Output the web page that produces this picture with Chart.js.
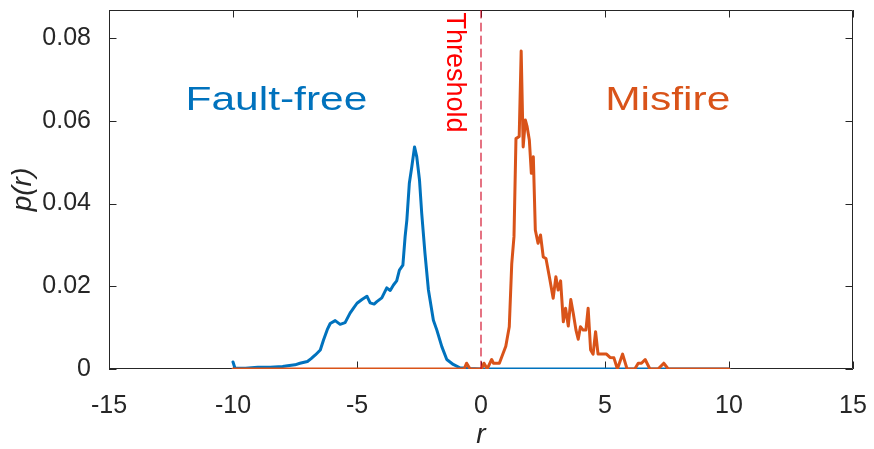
<!DOCTYPE html>
<html>
<head>
<meta charset="utf-8">
<script src="https://cdn.jsdelivr.net/npm/chart.js@4.4.1/dist/chart.umd.min.js"></script>
<style>
html,body{margin:0;padding:0;background:#fff;}
#wrap{width:874px;height:449px;}
</style>
</head>
<body>
<div id="wrap"><canvas id="c" width="874" height="449"></canvas></div>
<script>
// ---- data ----
const xTicks = [-15, -10, -5, 0, 5, 10, 15];
const yTicks = [0, 0.02, 0.04, 0.06, 0.08];
const ffR = [-10, -9.92, -9.5, -9, -8.5, -8, -7.8, -7.5, -7.3, -7.0, -6.85, -6.68, -6.48, -6.35, -6.2, -6.08, -5.88, -5.68, -5.48, -5.28, -5.14, -5.0, -4.8, -4.6, -4.47, -4.31, -4.2, -4.0, -3.8, -3.66, -3.53, -3.4, -3.29, -3.15, -3.06, -2.99, -2.89, -2.79, -2.68, -2.59, -2.48, -2.39, -2.26, -2.12, -1.92, -1.78, -1.58, -1.38, -1.12, -0.85, -0.5, 0, 10];
const ffP = [0.0017, 0.0002, 0.0002, 0.0004, 0.0004, 0.0006, 0.0008, 0.0010, 0.0014, 0.0018, 0.0025, 0.0034, 0.0046, 0.007, 0.0095, 0.011, 0.0117, 0.0108, 0.0112, 0.0135, 0.0147, 0.0159, 0.0168, 0.0176, 0.016, 0.0157, 0.0163, 0.0172, 0.0196, 0.019, 0.0203, 0.0213, 0.0239, 0.0251, 0.032, 0.036, 0.0449, 0.0489, 0.0537, 0.0513, 0.0457, 0.0376, 0.028, 0.0191, 0.0118, 0.0094, 0.0054, 0.0023, 0.0011, 0.0003, 0.0001, 0, 0];
const mfR = [-10, -0.68, -0.58, -0.44, 0.02, 0.12, 0.25, 0.43, 0.5, 0.74, 1.0, 1.14, 1.24, 1.33, 1.41, 1.54, 1.62, 1.70, 1.79, 1.86, 1.95, 2.03, 2.11, 2.19, 2.30, 2.40, 2.51, 2.62, 2.78, 2.91, 3.02, 3.11, 3.21, 3.32, 3.41, 3.52, 3.62, 3.72, 3.83, 3.92, 4.01, 4.12, 4.23, 4.32, 4.42, 4.52, 4.62, 4.72, 5.06, 5.2, 5.36, 5.5, 5.71, 5.89, 6.2, 6.34, 6.47, 6.62, 6.81, 7.14, 7.37, 7.55, 10];
const mfP = [0, 0, 0.0014, 0, 0, 0.0014, 0, 0.0023, 0.0014, 0.0014, 0.0055, 0.0102, 0.0255, 0.032, 0.0557, 0.0562, 0.0769, 0.0537, 0.0602, 0.0586, 0.0553, 0.0473, 0.0513, 0.0336, 0.0304, 0.0324, 0.0271, 0.0267, 0.0215, 0.0171, 0.0223, 0.0191, 0.0213, 0.0114, 0.0147, 0.0104, 0.0168, 0.0135, 0.0094, 0.0072, 0.0102, 0.0094, 0.0094, 0.0147, 0.0046, 0.0036, 0.009, 0.0036, 0.0036, 0.0028, 0.0027, 0, 0.0036, 0, 0, 0.0014, 0.0014, 0.0023, 0, 0, 0.0014, 0, 0];
const thresholdR = 0;
const xMin = -15, xMax = 15, yMin = 0, yMax = 0.0868;

const BLUE = '#0072BD', ORANGE = '#D95319', AXC = '#262626';
const FONT = "'Liberation Sans', Arial, Helvetica, sans-serif";

const pts = (xs, ys) => xs.map((x, i) => ({x: x, y: ys[i]}));

const boxPlugin = {
  id: 'box',
  beforeDatasetsDraw(chart) {
    const {ctx, chartArea: a, scales: {x, y}} = chart;
    ctx.save();
    ctx.strokeStyle = AXC;
    ctx.lineWidth = 1;
    ctx.beginPath();
    ctx.rect(Math.round(a.left) + 0.5, Math.round(a.top) + 0.5, Math.round(a.right - a.left) - 1, Math.round(a.bottom - a.top) - 1);
    const tl = 7.5;
    x.ticks.forEach(t => {
      const px = Math.round(x.getPixelForValue(t.value)) + 0.5;
      ctx.moveTo(px, a.bottom); ctx.lineTo(px, a.bottom - tl);
      ctx.moveTo(px, a.top); ctx.lineTo(px, a.top + tl);
    });
    y.ticks.forEach(t => {
      const py = Math.round(y.getPixelForValue(t.value)) + 0.5;
      ctx.moveTo(a.left, py); ctx.lineTo(a.left + tl, py);
      ctx.moveTo(a.right, py); ctx.lineTo(a.right - tl, py);
    });
    ctx.stroke();
    ctx.restore();
  },
  afterDatasetsDraw(chart) {
    const {ctx, scales: {x, y}} = chart;
    ctx.save();
    ctx.font = "34px " + FONT;
    ctx.textAlign = 'center';
    ctx.textBaseline = 'alphabetic';
    const drawStretched = (txt, r, p, col) => {
      ctx.save();
      ctx.translate(x.getPixelForValue(r), y.getPixelForValue(p));
      ctx.scale(1.25, 1);
      ctx.fillStyle = col;
      ctx.fillText(txt, 0, 0);
      ctx.restore();
    };
    drawStretched('Fault-free', -8.25, 0.0626, BLUE);
    drawStretched('Misfire', 7.53, 0.0626, ORANGE);
    ctx.save();
    ctx.translate(x.getPixelForValue(-1.36), y.getPixelForValue(0.0862));
    ctx.rotate(Math.PI / 2);
    ctx.font = "27px " + FONT;
    ctx.fillStyle = '#FF0000';
    ctx.textAlign = 'left';
    ctx.textBaseline = 'alphabetic';
    ctx.fillText('Threshold', 0, 0);
    ctx.restore();
    ctx.restore();
  }
};

new Chart(document.getElementById('c'), {
  type: 'line',
  data: {
    datasets: [
      {label: 'Fault-free', data: pts(ffR, ffP), borderColor: BLUE, borderWidth: 3, pointRadius: 0, tension: 0, order: 2},
      {label: 'Misfire', data: pts(mfR, mfP), borderColor: ORANGE, borderWidth: 3, pointRadius: 0, tension: 0, order: 1},
      {label: 'Threshold', data: [{x: thresholdR, y: yMin}, {x: thresholdR, y: yMax}], borderColor: '#D0001E', borderWidth: 1.1, borderDash: [8, 5], pointRadius: 0, order: 0}
    ]
  },
  options: {
    responsive: false,
    animation: false,
    devicePixelRatio: 1,
    layout: {padding: {left: 0, right: 21, top: 10, bottom: 0}},
    plugins: {legend: {display: false}, tooltip: {enabled: false}},
    elements: {line: {borderJoinStyle: 'round', borderCapStyle: 'round'}},
    scales: {
      x: {
        type: 'linear', min: xMin, max: xMax,
        afterBuildTicks: s => { s.ticks = xTicks.map(v => ({value: v})); },
        afterFit: s => { s.height = 80; s.paddingLeft = 0; s.paddingRight = 0; },
        grid: {display: false},
        border: {display: false},
        ticks: {color: AXC, font: {family: FONT, size: 25}, padding: 14, maxRotation: 0, autoSkip: false,
                callback: v => String(v)},
        title: {display: true, text: 'r', color: AXC, font: {family: FONT, size: 28, style: 'italic', lineHeight: 1}, padding: {top: 0, bottom: 0}}
      },
      y: {
        type: 'linear', min: yMin, max: yMax,
        afterBuildTicks: s => { s.ticks = yTicks.map(v => ({value: v})); },
        afterFit: s => { s.width = 109; s.paddingTop = 0; s.paddingBottom = 0; },
        grid: {display: false},
        border: {display: false},
        ticks: {color: AXC, font: {family: FONT, size: 25}, padding: 10, autoSkip: false,
                callback: v => v === 0 ? '0' : v.toFixed(2)},
        title: {display: true, text: 'p(r)', color: AXC, font: {family: FONT, size: 28, style: 'italic', lineHeight: 1}, padding: {top: 9, bottom: 0}}
      }
    }
  },
  plugins: [boxPlugin]
});
</script>
</body>
</html>
